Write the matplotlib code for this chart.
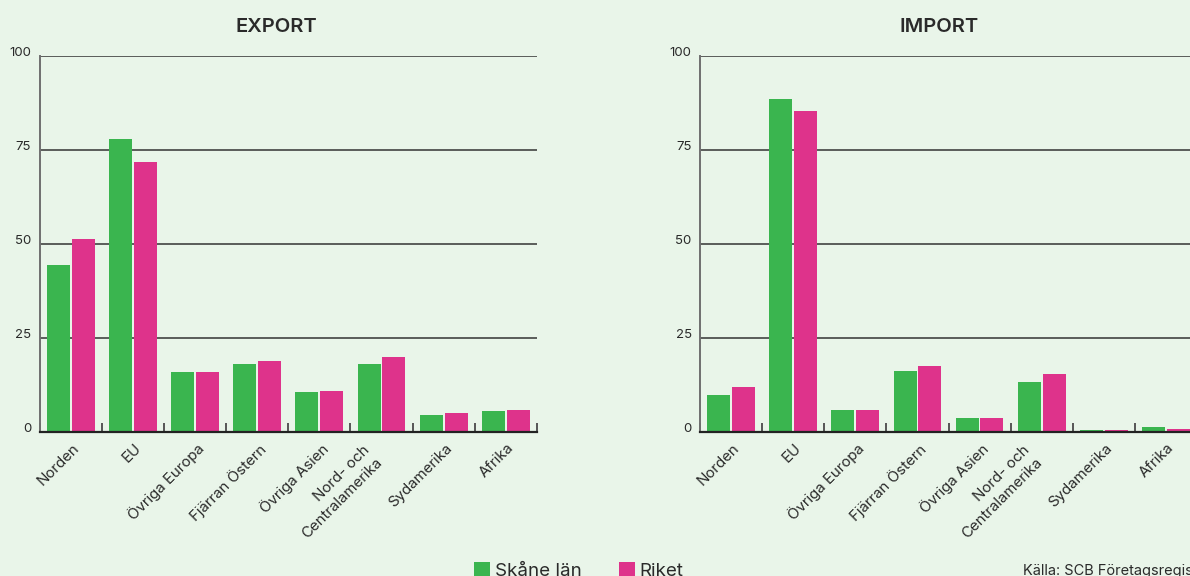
import matplotlib
matplotlib.use("Agg")
import matplotlib.pyplot as plt
import numpy as np
from matplotlib.transforms import ScaledTranslation
from matplotlib.patches import Patch

plt.rcParams['font.family'] = ['Inter', 'DejaVu Sans']

categories = ["Norden", "EU", "Övriga Europa", "Fjärran Östern", "Övriga Asien",
              "Nord- och\nCentralamerika", "Sydamerika", "Afrika"]
export_skane = [44.4, 77.9, 16.0, 18.1, 10.6, 18.1, 4.5, 5.6]
export_riket = [51.3, 71.8, 16.0, 18.9, 10.9, 19.9, 5.1, 5.9]
import_skane = [9.8, 88.6, 5.9, 16.2, 3.7, 13.3, 0.6, 1.2]
import_riket = [12.0, 85.4, 5.9, 17.6, 3.7, 15.4, 0.6, 0.9]
yticks = [0, 25, 50, 75, 100]
series_names = ["Skåne län", "Riket"]
titles = ["EXPORT", "IMPORT"]
source = "Källa: SCB Företagsregister"

BG = "#E9F5E9"
GREEN = "#3AB54F"
PINK = "#DE338B"
TXT = "#2a2a2a"

W, H = 1190, 576
fig = plt.figure(figsize=(W / 100, H / 100), dpi=100, facecolor=BG)

def px(x0, y0, x1, y1):
    return [x0 / W, 1 - y1 / H, (x1 - x0) / W, (y1 - y0) / H]

axes_pos = [px(39.6, 56, 537, 432), px(700, 56, 1197, 432)]
data = [(export_skane, export_riket), (import_skane, import_riket)]
title_x = [276, 939]

x = np.arange(len(categories))
bw = 0.37
for pos, (s, r), t, tx in zip(axes_pos, data, titles, title_x):
    ax = fig.add_axes(pos)
    ax.set_facecolor(BG)
    ax.bar(x - 0.2, s, bw, color=GREEN, zorder=3)
    ax.bar(x + 0.2, r, bw, color=PINK, zorder=3)
    ax.set_xlim(-0.5, len(categories) - 0.5)
    ax.set_ylim(0, 100)
    ax.set_yticks(yticks)
    ax.set_yticklabels([str(v) for v in yticks], fontsize=9.5, color=TXT, va='baseline')
    ax.tick_params(axis='y', length=0, pad=6)
    for yv in yticks[1:]:
        ax.axhline(yv, color="#333333", lw=1.1, zorder=1)
    for sp in ['top', 'right']:
        ax.spines[sp].set_visible(False)
    ax.spines['left'].set_color("#6f6f6f")
    ax.spines['left'].set_linewidth(1.4)
    ax.spines['bottom'].set_color("#222222")
    ax.spines['bottom'].set_linewidth(1.6)
    ax.spines['bottom'].set_zorder(4)
    ax.set_xticks(x)
    ax.set_xticklabels(categories, rotation=45, ha='right', va='top',
                       rotation_mode='anchor', fontsize=10.8, color=TXT,
                       multialignment='right', linespacing=1.3)
    ax.tick_params(axis='x', length=0, pad=6.3)
    for lab in ax.get_xticklabels():
        if "\n" in lab.get_text():
            off = ScaledTranslation(-19 / 100, -2 / 100, fig.dpi_scale_trans)
        else:
            off = ScaledTranslation(1 / 100, 0, fig.dpi_scale_trans)
        lab.set_transform(lab.get_transform() + off)
    ax.set_xticks(np.arange(-0.5, len(categories) + 0.5, 1), minor=True)
    ax.tick_params(axis='x', which='minor', direction='in', length=6.5,
                   width=1.4, color="#555555")
    fig.text(tx / W, 1 - 32 / H, t, ha='center', va='baseline', fontsize=14.5,
             fontweight='semibold', color=TXT)

handles = [Patch(facecolor=GREEN, label=series_names[0]),
           Patch(facecolor=PINK, label=series_names[1])]
fig.legend(handles=handles, loc='lower center', bbox_to_anchor=(579 / W, -0.037),
           ncol=2, frameon=False, fontsize=13.5, handlelength=0.85, handleheight=0.85,
           handletextpad=0.25, columnspacing=2.0, labelcolor=TXT)
fig.text(1023 / W, 1 - 575 / H, source, ha='left', va='baseline', fontsize=10.5,
         color=TXT)

fig.savefig("out.png", dpi=100, facecolor=BG)
